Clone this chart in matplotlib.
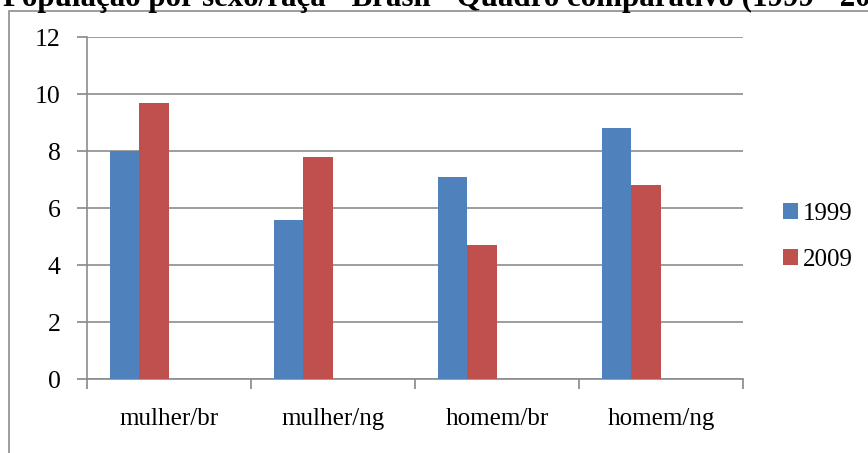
import numpy as np
import matplotlib.pyplot as plt
from matplotlib.patches import Rectangle

categorias = ['mulher/br', 'mulher/ng', 'homem/br', 'homem/ng']
anos = ['1999', '2009']
valores_1999 = [8.0, 5.6, 7.1, 8.8]
valores_2009 = [9.7, 7.8, 4.7, 6.8]
cores = ['#4f81bd', '#c0504d']

plt.rcParams['font.family'] = ['Liberation Serif', 'DejaVu Serif']

fig = plt.figure(figsize=(8.68, 4.53), dpi=100)
ax = fig.add_axes([0.1002, 0.1627, 0.856 - 0.1002, 0.9177 - 0.1627])

# moldura do grafico
fig.patches.append(Rectangle((9 / 868, -0.1), 1.2, 1 - 11 / 453 + 0.1,
                             transform=fig.transFigure, fill=False,
                             edgecolor='#8c8c8c', linewidth=1.2))

x = np.arange(len(categorias))
largura = 0.18
ax.bar(x + 0.14, valores_1999, width=largura, align='edge', color=cores[0], label=anos[0], zorder=3)
ax.bar(x + 0.14 + largura, valores_2009, width=largura, align='edge', color=cores[1], label=anos[1], zorder=3)

ax.set_xlim(0, 4)
ax.set_ylim(0, 12)
ax.set_yticks(range(0, 13, 2))
ax.set_xticks(range(0, 5))
ax.set_xticklabels([])
ax.set_xticks(x + 0.5, minor=True)
ax.set_xticklabels(categorias, minor=True)
ax.tick_params(axis='x', which='minor', length=0, pad=21, labelsize=18)
ax.tick_params(axis='x', which='major', length=7, color='#888888', width=1.2)
ax.tick_params(axis='y', length=7, color='#888888', width=1.2, pad=12, labelsize=18.5)

ax.grid(axis='y', color='#8c8c8c', linewidth=1.2, zorder=0)
for lado in ['top', 'right']:
    ax.spines[lado].set_visible(False)
for lado in ['left', 'bottom']:
    ax.spines[lado].set_color('#8c8c8c')
    ax.spines[lado].set_linewidth(1.2)

fig.legend(loc='center left', bbox_to_anchor=(760 / 868, 1 - 237 / 453), frameon=False,
           fontsize=18, handlelength=0.6, handleheight=0.6, handletextpad=0.2,
           labelspacing=0.95)

# titulo largo, sai da area da figura
fig.text(3 / 868, 1 - 6 / 453, 'População por sexo/raça - Brasil - Quadro comparativo (1999 - 2009)',
         fontsize=22.3, fontweight='bold', va='baseline', ha='left')

fig.savefig('out.png', dpi=100)
